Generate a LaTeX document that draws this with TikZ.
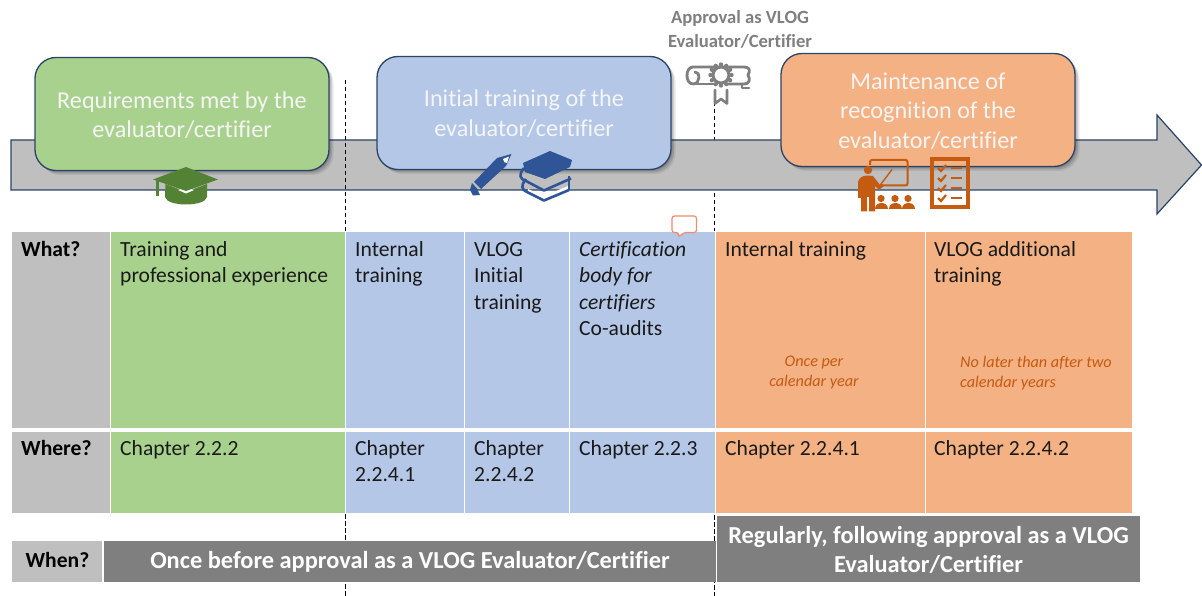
\documentclass[tikz,border=0pt]{standalone}
\usepackage{fontspec}
\setmainfont{Carlito}[Ligatures=NoCommon]
\usetikzlibrary{shadows}
\definecolor{cgreen}{HTML}{A9D18E}
\definecolor{cblue}{HTML}{B4C7E7}
\definecolor{corange}{HTML}{F4B183}
\definecolor{cgray}{HTML}{BFBFBF}
\definecolor{cdark}{HTML}{7F7F7F}
\definecolor{cline}{HTML}{2A4468}
\definecolor{iconGreen}{HTML}{548235}
\definecolor{iconBlue}{HTML}{2F5597}
\definecolor{iconOrange}{HTML}{C55A11}
\definecolor{ctext}{HTML}{1A1A1A}
\definecolor{csalmon}{HTML}{F08A70}
\tikzset{
  x=1pt,y=-1pt,
  softshadow/.style={
    drop shadow={shadow xshift=1.5pt,shadow yshift=-1.5pt,opacity=.12,fill=black},
    drop shadow={shadow xshift=3pt,shadow yshift=-3pt,opacity=.12,fill=black},
    drop shadow={shadow xshift=4.5pt,shadow yshift=-4.5pt,opacity=.08,fill=black}},
  titlebox/.style={draw=cline,line width=1.3pt,rounded corners=21pt,softshadow,inner sep=0pt,
    minimum width=294pt,minimum height=113pt},
  titlelabel/.style={inner sep=0pt,text=white!96!black,align=center,
    font=\fontsize{24.2}{29.3}\selectfont},
  cellbox/.style={draw=none,inner sep=0pt,outer sep=0pt},
  celltext/.style={anchor=north west,inner sep=0pt,align=left,text=ctext,
    font=\fontsize{21.6}{26.3}\selectfont},
  celltextb/.style={celltext,text=black,font=\fontsize{21.6}{26.3}\selectfont\bfseries},
  smallnote/.style={inner sep=0pt,text=iconOrange,font=\fontsize{16.2}{20}\selectfont\itshape},
  barbox/.style={cellbox,fill=cdark},
  barlabel/.style={inner sep=0pt,text=white,align=center,
    font=\fontsize{24.4}{29}\selectfont\bfseries},
  guide/.style={black,line width=.7pt,dash pattern=on 4.5pt off 2.5pt},
}
\newcommand{\cellrect}[6]{% name x0 y0 x1 y1 colour
  \path[fill=#6] (#2,#3) rectangle (#4,#5);
  \coordinate (#1) at (#2,#3);}
\newcommand{\celllabel}[5][celltext]{% style name x baseline text
  \node[#1] (#2) at (#3,#4-18.41) {\strut #5};}
\begin{document}
\begin{tikzpicture}
\useasboundingbox (0,0) rectangle (1202,596);
\fill[white] (0,0) rectangle (1202,596);

% guide ends
\coordinate (g1top) at (345,80);
\coordinate (g1bot) at (345,596);
\coordinate (g2top) at (714.5,102);
\coordinate (g2bot) at (714.5,596);
\draw[guide] (g2top) -- (g2bot);

% timeline arrow
\draw[fill=cgray,draw=cline,line width=1.2pt,line join=miter]
  (11,140) -- (1157,140) -- (1157,115) -- (1201.5,165) -- (1157,214) -- (1157,190) -- (11,190) -- cycle;

\draw[guide] (g1top) -- (g1bot);

% title boxes
\node[titlebox,fill=cgreen] (req) at (182,114) {};
\node[titlebox,fill=cblue] (init) at (524,113) {};
\node[titlebox,fill=corange] (maint) at (928,110) {};
\node[titlelabel] (reqt) at (182,115) {Requirements met by the\\evaluator/certifier};
\node[titlelabel] (initt) at (524,113.5) {Initial training of the\\evaluator/certifier};
\node[titlelabel] (maintt) at (928,111) {Maintenance of\\recognition of the\\evaluator/certifier};

% approval label
\node[inner sep=0pt,text=cdark,align=center,font=\fontsize{18.6}{24}\selectfont\bfseries] (appr) at (740,29) {Approval as VLOG\\Evaluator/Certifier};

% table backing, then cells
\fill[white] (11,231) rectangle (1133,514);
\cellrect{c1}{12}{232}{109.5}{428}{cgray}
\cellrect{c2}{111}{232}{344.5}{428}{cgreen}
\cellrect{c3}{346}{232}{463.5}{428}{cblue}
\cellrect{c4}{465}{232}{568.5}{428}{cblue}
\cellrect{c5}{570}{232}{714.7}{428}{cblue}
\cellrect{c6}{716}{232}{924.5}{428}{corange}
\cellrect{c7}{926}{232}{1132}{428}{corange}
\cellrect{d1}{12}{432}{109.5}{513}{cgray}
\cellrect{d2}{111}{432}{344.5}{513}{cgreen}
\cellrect{d3}{346}{432}{463.5}{513}{cblue}
\cellrect{d4}{465}{432}{568.5}{513}{cblue}
\cellrect{d5}{570}{432}{714.7}{513}{cblue}
\cellrect{d6}{716}{432}{924.5}{513}{corange}
\cellrect{d7}{926}{432}{1132}{513}{corange}

% cell texts
\celllabel[celltextb]{twhat}{21}{256}{What?}
\celllabel{t2}{120}{256.4}{Training and\\professional experience}
\celllabel{t3}{355}{256.4}{Internal\\training}
\celllabel{t4}{474}{256.4}{VLOG\\Initial\\training}
\celllabel{t5}{579}{256.4}{\textit{Certification}\\\textit{body for}\\\textit{certifiers}\\Co-audits}
\celllabel{t6}{725}{256.4}{Internal training}
\celllabel{t7}{934}{256.4}{VLOG additional\\training}
\node[smallnote,align=center] (n6) at (814,373) {Once per\\calendar year};
\node[smallnote,align=left,anchor=west] (n7) at (960,373) {No later than after two\\calendar years};
\celllabel[celltextb]{twhere}{21}{455.4}{Where?}
\celllabel{u2}{120}{455.4}{Chapter 2.2.2}
\celllabel{u3}{355}{455.4}{Chapter\\2.2.4.1}
\celllabel{u4}{474}{455.4}{Chapter\\2.2.4.2}
\celllabel{u5}{579}{455.4}{Chapter 2.2.3}
\celllabel{u6}{725}{455.4}{Chapter 2.2.4.1}
\celllabel{u7}{934}{455.4}{Chapter 2.2.4.2}

% when row
\node[cellbox,fill=cgray,minimum width=90pt,minimum height=41pt] (when) at (57,561.5) {};
\node[inner sep=0pt,text=black,font=\fontsize{21.6}{24}\selectfont\bfseries] (whent) at (57.5,559.5) {When?};
\node[barbox,minimum width=612pt,minimum height=41pt] (once) at (410,561.5) {};
\node[barlabel] (oncet) at (410,561.5) {Once before approval as a VLOG Evaluator/Certifier};
\node[barbox,minimum width=423pt,minimum height=66pt] (regular) at (928.5,549) {};
\node[barlabel] (regulart) at (928.5,550) {Regularly, following approval as a VLOG\\Evaluator/Certifier};

% graduation cap
\fill[iconGreen] (165.5,184) -- (186,192) -- (207,184) -- (207,197) .. controls (205,207) and (167,207) .. (165,197) -- cycle;
\fill[white] (178,190) -- (186,187) -- (194,190) -- (186,193.5) -- cycle;
\fill[iconGreen] (153,179.5) -- (186,167) -- (218,179.5) -- (186,191) -- cycle;
\fill[iconGreen] (155.5,181) rectangle (158.5,196);

% pencil
\fill[iconBlue] (511.5,154) -- (497,158) -- (474,182) -- (481,189) -- (506,166) -- cycle;
\fill[white] (509,156.5) -- (503,159) .. controls (503,162) and (505,163) .. (507,163) -- cycle;
\fill[iconBlue] (472,183) -- (477,188.5) -- (480,195) -- (473,195.5) -- (470,190) -- cycle;

% books
\begin{scope}[line join=round]
  \fill[white] (528,189) -- (544,196) -- (568,186) -- (568,191) -- (544,200) -- (528,193) -- cycle;
  \draw[iconBlue,line width=2.6pt] (526,179) .. controls (520,186) and (522,190) .. (527,192) -- (544,200.5) -- (569,190);
  \draw[iconBlue,line width=2.6pt] (524,168) .. controls (518,175) and (520,179) .. (526,181) -- (544,190.5) -- (571,178.5);
  \draw[iconBlue,line width=2.6pt] (569,176) -- (569,190);
  \fill[iconBlue] (523,163) -- (550,151) -- (572,160) -- (570,167) -- (545,179) -- (525,172) -- cycle;
\end{scope}

% diploma
\begin{scope}[line cap=round,line join=round]
  \draw[cdark,line width=2.8pt] (748,75) .. controls (751,70) and (749,67) .. (744,67) -- (693,67) .. controls (685,67) and (685,84) .. (693,84) .. controls (701,84) and (700,71) .. (695,72);
  \draw[cdark,line width=2.8pt] (693,84) -- (714,84);
  \draw[cdark,line width=2.8pt] (748,75) .. controls (751,80) and (749,84) .. (744,84) -- (728,84);
  \draw[cdark,line width=2.8pt] (742,84) -- (742,88) -- (749,88);
  \draw[cdark,line width=2.6pt,fill=white] (715,90) -- (715,103.5) -- (721,99) -- (727,103.5) -- (727,90);
\end{scope}
\foreach \sa in {0,30,...,330}{
  \fill[cdark] (721,75) ++(\sa:10.5) circle (2.2);
}
\draw[cdark,line width=3pt,fill=white] (721,75) circle (8);

% teacher and audience
\draw[iconOrange,line width=2pt,rounded corners=2pt] (870,165) -- (870,160) -- (907.5,160) -- (907.5,185.5) -- (882,185.5);
\draw[iconOrange,line width=1.4pt] (878,188) -- (892,169.5);
\fill[iconOrange] (868,170) circle (4.2);
\fill[iconOrange] (858,184) .. controls (858,177) and (863,175.5) .. (868,175.5)
   -- (873,176) -- (880,185) -- (882,184) -- (884,186) -- (879,190) -- (875,186) -- (875,196)
   -- (875,211.5) -- (869,211.5) -- (869,197) -- (867,197) -- (867,211.5) -- (861,211.5) -- (861,198) -- (858,198) -- cycle;
\foreach \ax in {881,895,908}{
  \fill[iconOrange] (\ax,198.5) circle (3.6);
  \fill[iconOrange] (\ax-6.5,209) .. controls (\ax-6.5,201.5) and (\ax+6.5,201.5) .. (\ax+6.5,209) -- cycle;
}

% checklist
\draw[iconOrange,line width=4pt] (931.5,159) rectangle (968,207);
\foreach \cy in {168,178,188,198}{
  \draw[iconOrange,line width=2.2pt] (938,\cy) -- (941,\cy+3) -- (946,\cy-3);
  \draw[iconOrange,line width=2.2pt] (951,\cy) -- (962,\cy);
}

% comment marker
\draw[csalmon,line width=1.2pt,fill=white,rounded corners=2.5pt] (672,216) -- (696.5,216) -- (696.5,232.5) -- (684,232.5) -- (678.5,237) -- (678.5,232.5) -- (672,232.5) -- cycle;
\end{tikzpicture}
\end{document}
